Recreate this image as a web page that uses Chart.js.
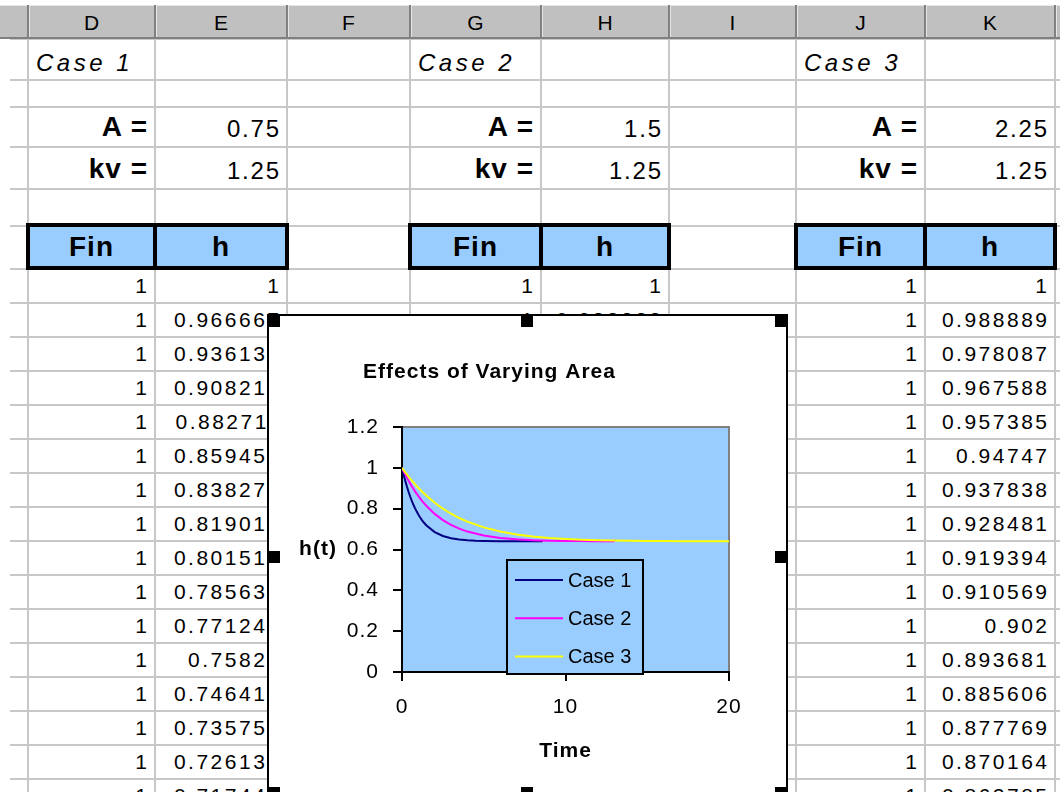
<!DOCTYPE html>
<html>
<head>
<meta charset="utf-8">
<title>Effects of Varying Area</title>
<script src="https://cdn.jsdelivr.net/npm/chart.js"></script>
<style>
  html, body { margin: 0; padding: 0; background: #fff; }
  body { position: relative; width: 1060px; height: 792px; overflow: hidden;
         font-family: "Liberation Sans", Arial, sans-serif; color: #000; }
  #sheet { position: absolute; left: 0; top: 0; width: 1060px; height: 792px; }
  .abs { position: absolute; }
  .txt { position: absolute; white-space: nowrap; color: #000; }
  #chartBox { position: absolute; left: 267px; top: 314px; width: 521px; height: 486px;
              box-sizing: border-box; border: 2px solid #000; background: #fff; }
  #chartBox canvas { position: absolute; left: 0; top: 0; }
  .handle { position: absolute; width: 12px; height: 12px; background: #000; }
</style>
</head>
<body>
<div id="sheet"></div>
<div id="chartBox"><canvas id="chart" width="517" height="482"></canvas></div>
<script>
// ---------- worksheet values ----------
const columnLetters = ['D', 'E', 'F', 'G', 'H', 'I', 'J', 'K'];
const caseTitles = ['Case 1', 'Case 2', 'Case 3'];
const areaValues = [0.75, 1.5, 2.25];
const kvValues = [1.25, 1.25, 1.25];
const finValues = [1, 1, 1, 1, 1, 1, 1, 1, 1, 1, 1, 1, 1, 1, 1, 1];

// ---------- tank level h(t) for each case ----------
const case1Times = [0, 0.1, 0.2, 0.3, 0.4, 0.5, 0.6, 0.7, 0.8, 0.9, 1.0, 1.1, 1.2, 1.3, 1.4, 1.5,
                    2, 2.5, 3, 3.5, 4, 4.5, 5, 6, 7, 8, 8.6];
const case1Levels = [1, 0.966667, 0.936135, 0.908212, 0.882711, 0.859457, 0.838279, 0.819016,
                     0.801517, 0.785638, 0.771244, 0.75821, 0.746418, 0.735759, 0.726132, 0.717443,
                     0.6853, 0.6663, 0.6552, 0.6488, 0.6451, 0.6429, 0.6417, 0.6406, 0.6402, 0.6401, 0.6400];

const case2Times = [0, 0.1, 0.2, 0.3, 0.4, 0.5, 0.6, 0.7, 0.8, 0.9, 1.0, 1.1, 1.2, 1.3, 1.4, 1.5,
                    2, 2.5, 3, 3.5, 4, 5, 6, 7, 8, 9, 10, 11, 12, 13];
const case2Levels = [1, 0.983333, 0.967364, 0.952068, 0.937423, 0.923406, 0.909994, 0.897166,
                     0.8849, 0.873176, 0.861973, 0.851271, 0.841051, 0.831294, 0.821981, 0.813095,
                     0.7744, 0.7441, 0.7204, 0.7020, 0.6877, 0.6681, 0.6565, 0.6497, 0.6457,
                     0.6433, 0.6420, 0.6411, 0.6407, 0.6404];

const case3Times = [0, 0.1, 0.2, 0.3, 0.4, 0.5, 0.6, 0.7, 0.8, 0.9, 1.0, 1.1, 1.2, 1.3, 1.4, 1.5,
                    2, 2.5, 3, 3.5, 4, 5, 6, 7, 8, 9, 10, 11, 12, 13, 14, 15, 16, 17, 18, 19, 20];
const case3Levels = [1, 0.988889, 0.978087, 0.967588, 0.957385, 0.94747, 0.937838, 0.928481,
                     0.919394, 0.910569, 0.902, 0.893681, 0.885606, 0.877769, 0.870164, 0.862785,
                     0.8289, 0.7999, 0.7751, 0.7541, 0.7362, 0.7082, 0.6882, 0.6740, 0.6640,
                     0.6569, 0.6519, 0.6483, 0.6459, 0.6441, 0.6429, 0.6420, 0.6414, 0.6410,
                     0.6407, 0.6405, 0.6403];

// rows of each case shown in the worksheet
const case1Rows = 16, case2Rows = 2, case3Rows = 16;

// ---------- chart labels ----------
const chartTitle = 'Effects of Varying Area';
const xAxisTitle = 'Time';
const yAxisTitle = 'h(t)';
const xTickLabels = ['0', '10', '20'];
const yTickLabels = ['0', '0.2', '0.4', '0.6', '0.8', '1', '1.2'];
const seriesNames = ['Case 1', 'Case 2', 'Case 3'];
const seriesColors = ['#000080', '#ff00ff', '#ffff00'];

// ---------- worksheet drawing ----------
const sheet = document.getElementById('sheet');
const colEdges = [28, 155, 287, 410, 541, 669, 796, 925, 1055];
const rowEdges = [39, 80, 107, 147, 189, 226, 269];
const dataTop = 269, dataRowH = 34.0, dataRowCount = 16;
for (let k = 1; k <= dataRowCount; k++) rowEdges.push(dataTop + dataRowH * k);
const gridColor = '#c8c8c8';
const FONT = '"Liberation Sans", Arial, sans-serif';

function rect(x, y, w, h, color) {
  const d = document.createElement('div');
  d.className = 'abs';
  d.style.left = x + 'px'; d.style.top = y + 'px';
  d.style.width = w + 'px'; d.style.height = h + 'px';
  d.style.background = color;
  sheet.appendChild(d);
  return d;
}
function text(str, x0, x1, baseline, opt) {
  const size = opt.size;
  const d = document.createElement('div');
  d.className = 'txt';
  d.textContent = str;
  d.style.left = x0 + 'px';
  d.style.width = (x1 - x0) + 'px';
  d.style.top = (baseline - 0.8465 * size) + 'px';
  d.style.height = size + 'px';
  d.style.lineHeight = size + 'px';
  d.style.fontFamily = FONT;
  d.style.fontSize = size + 'px';
  d.style.fontWeight = opt.bold ? 'bold' : 'normal';
  d.style.fontStyle = opt.italic ? 'italic' : 'normal';
  d.style.letterSpacing = (opt.ls || 0) + 'px';
  d.style.textAlign = opt.align || 'left';
  d.style.boxSizing = 'border-box';
  if (opt.align === 'right') d.style.paddingRight = (opt.pad || 0) + 'px';
  if (opt.align === 'left') d.style.paddingLeft = (opt.pad || 0) + 'px';
  sheet.appendChild(d);
  return d;
}

// grid lines
rowEdges.forEach(y => rect(10, y - 1, 1050, 2, gridColor));
colEdges.forEach(x => rect(x - 1, 39, 2, 760, gridColor));

// column header strip
rect(0, 5, 1060, 34, '#c0c0c0');
rect(0, 5, 1060, 1, '#e6e6e6');
rect(0, 37, 1060, 2, '#808080');
colEdges.forEach(x => { rect(x - 1, 5, 2, 33, '#808080'); rect(x + 1, 6, 1, 31, '#e6e6e6'); });
columnLetters.forEach((c, i) => text(c, colEdges[i], colEdges[i + 1], 30, {size: 21, align: 'center'}));

const numFont = {size: 21, ls: 2.5, align: 'right', pad: 5.5};
const paramFont = {size: 24, ls: 1.8, align: 'right', pad: 6.2};
const labelFont = {size: 28, bold: true, ls: 1, align: 'right', pad: 7};
const allLevels = [case1Levels, case2Levels, case3Levels];
const shownRows = [case1Rows, case2Rows, case3Rows];

for (let c = 0; c < 3; c++) {
  const s = c * 3;
  const lx0 = colEdges[s], lx1 = colEdges[s + 1], vx1 = colEdges[s + 2];
  text(caseTitles[c], lx0, lx1 + 40, 71, {size: 24, italic: true, ls: 3.5, align: 'left', pad: 8});
  text('A =', lx0, lx1, 137, labelFont);
  text(String(areaValues[c]), lx1, vx1, 137, paramFont);
  text('kv =', lx0, lx1, 179, labelFont);
  text(String(kvValues[c]), lx1, vx1, 179, paramFont);

  // Fin / h heading block
  const hb = rect(lx0 - 2, 223, vx1 - lx0 + 4, 47, '#99ccff');
  hb.style.boxSizing = 'border-box';
  hb.style.border = '4px solid #000';
  rect(lx1 - 2, 223, 4, 47, '#000');
  text('Fin', lx0, lx1, 257, {size: 28, bold: true, ls: 1, align: 'center'});
  text('h', lx1, vx1, 257, {size: 28, bold: true, ls: 1, align: 'center'});

  for (let k = 0; k < shownRows[c]; k++) {
    const bottom = dataTop + dataRowH * (k + 1);
    text(String(finValues[k]), lx0, lx1, bottom - 10.5, numFont);
    text(String(allLevels[c][k]), lx1, vx1, bottom - 10.5, numFont);
  }
}

// ---------- chart ----------
const FONT_NAME = 'Liberation Sans';
const pts = (times, levels) => times.map((t, i) => ({x: t, y: levels[i]}));

const decor = {
  id: 'decor',
  beforeDraw(chart) {
    const {ctx, chartArea: a} = chart;
    ctx.save();
    ctx.fillStyle = '#99ccff';
    ctx.fillRect(a.left, a.top, a.right - a.left, a.bottom - a.top);
    ctx.strokeStyle = '#808080';
    ctx.lineWidth = 2;
    ctx.beginPath();
    ctx.moveTo(a.left, a.top);
    ctx.lineTo(a.right, a.top);
    ctx.lineTo(a.right, a.bottom);
    ctx.stroke();
    ctx.fillStyle = '#000';
    ctx.letterSpacing = '1px';
    ctx.font = 'bold 21px "' + FONT_NAME + '"';
    ctx.textAlign = 'center';
    ctx.textBaseline = 'middle';
    ctx.fillText(chartTitle, 220.5, 56);
    ctx.fillText(yAxisTitle, 49, (a.top + a.bottom) / 2);
    ctx.restore();
    ctx.letterSpacing = '1px';
  },
  afterDraw(chart) {
    const {ctx, chartArea: a} = chart;
    const bx = a.left + 105, by = a.bottom - 112, bw = 136, bh = 114;
    ctx.save();
    ctx.letterSpacing = '0px';
    ctx.fillStyle = '#99ccff';
    ctx.fillRect(bx, by, bw, bh);
    ctx.strokeStyle = '#000';
    ctx.lineWidth = 2;
    ctx.strokeRect(bx, by, bw, bh);
    ctx.font = '20px "' + FONT_NAME + '"';
    ctx.textAlign = 'left';
    ctx.textBaseline = 'middle';
    chart.data.datasets.forEach((ds, i) => {
      const y = by + 20 + i * 38.3;
      ctx.strokeStyle = ds.borderColor;
      ctx.lineWidth = 2;
      ctx.beginPath();
      ctx.moveTo(bx + 8, y);
      ctx.lineTo(bx + 56, y);
      ctx.stroke();
      ctx.fillStyle = '#000';
      ctx.fillText(ds.label, bx + 61, y + 1);
    });
    ctx.restore();
  }
};

const tickFont = {family: FONT_NAME, size: 21};
new Chart(document.getElementById('chart'), {
  type: 'line',
  data: {
    datasets: [
      {label: seriesNames[0], data: pts(case1Times, case1Levels), borderColor: seriesColors[0], order: 2},
      {label: seriesNames[1], data: pts(case2Times, case2Levels), borderColor: seriesColors[1], order: 1},
      {label: seriesNames[2], data: pts(case3Times, case3Levels), borderColor: seriesColors[2], order: 0}
    ].map(d => Object.assign(d, {borderWidth: 2, pointRadius: 0, tension: 0, fill: false}))
  },
  options: {
    responsive: false,
    animation: false,
    devicePixelRatio: 1,
    events: [],
    layout: {padding: {left: 0, right: 57, top: 111, bottom: 0}},
    plugins: {legend: {display: false}, tooltip: {enabled: false}, title: {display: false}},
    scales: {
      x: {
        type: 'linear', min: 0, max: 20,
        ticks: {stepSize: 10, color: '#000', font: tickFont, padding: 14, maxRotation: 0,
                callback: (v, i) => xTickLabels[i]},
        grid: {drawOnChartArea: false, drawTicks: true, tickLength: 9, color: '#000', lineWidth: 2},
        border: {color: '#000', width: 2},
        title: {display: true, text: xAxisTitle, color: '#000',
                font: {family: FONT_NAME, size: 21, weight: 'bold'}, padding: {top: 0, bottom: 34}},
        afterFit: s => { s.height = 126; }
      },
      y: {
        type: 'linear', min: 0, max: 1.2,
        ticks: {stepSize: 0.2, color: '#000', font: tickFont, padding: 14,
                callback: (v, i) => yTickLabels[i]},
        grid: {drawOnChartArea: false, drawTicks: true, tickLength: 9, color: '#000', lineWidth: 2},
        border: {color: '#000', width: 2},
        afterFit: s => { s.width = 133; }
      }
    }
  },
  plugins: [decor]
});

// selection handles on the chart frame
[[268, 315], [521, 315], [775, 315], [268, 551], [775, 551], [268, 787], [521, 787], [775, 787]]
  .forEach(([x, y]) => {
    const h = document.createElement('div');
    h.className = 'handle';
    h.style.left = x + 'px'; h.style.top = y + 'px';
    document.body.appendChild(h);
  });
</script>
</body>
</html>
